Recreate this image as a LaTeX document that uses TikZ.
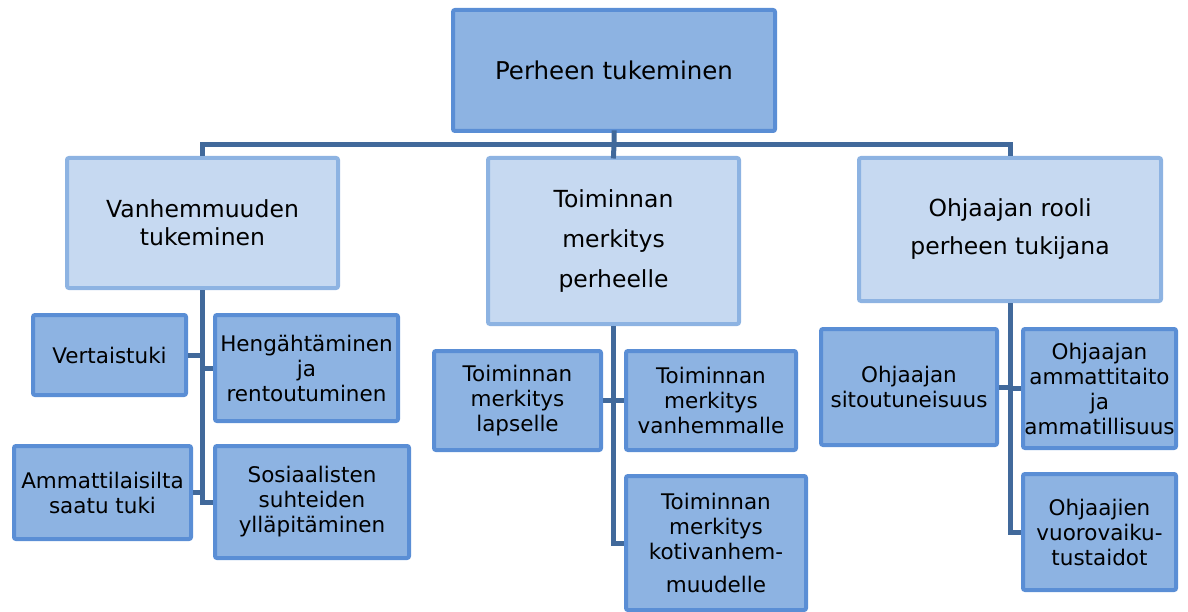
\documentclass[tikz,border=0pt]{standalone}
\usepackage{fontspec}
\setmainfont{DejaVu Sans}
\definecolor{darkfill}{HTML}{8DB3E2}
\definecolor{darkline}{HTML}{5A8ED5}
\definecolor{lightfill}{HTML}{C6D9F1}
\definecolor{lightline}{HTML}{8DB3E2}
\definecolor{conn}{HTML}{41699B}
\tikzset{
  topbox/.style={draw=darkline, fill=darkfill, line width=4pt, rounded corners=2pt, inner sep=0pt, align=center, font=\fontsize{24.5}{29}\selectfont},
  midbox/.style={draw=lightline, fill=lightfill, line width=4pt, rounded corners=2pt, inner sep=0pt, align=center},
  leafbox/.style={draw=darkline, fill=darkfill, line width=4pt, rounded corners=2pt, inner sep=0pt, align=center, font=\fontsize{21.5}{25}\selectfont},
  link/.style={draw=conn, line width=5pt, line cap=rect}
}
\begin{document}
\begin{tikzpicture}[x=1pt,y=-1pt]
\useasboundingbox (0,0) rectangle (1188,612);
% top
\node[topbox, minimum width=322pt, minimum height=121pt] (top) at (614,70.5) {Perheen tukeminen};
% level 2
\node[midbox, minimum width=271pt, minimum height=130pt, font=\fontsize{23.5}{28}\selectfont] (L) at (202.5,223) {Vanhemmuuden\\tukeminen};
\node[midbox, minimum width=251pt, minimum height=166pt, font=\fontsize{23.5}{40}\selectfont] (M) at (613.5,241) {Toiminnan\\merkitys\\perheelle};
\node[midbox, minimum width=302pt, minimum height=143pt, font=\fontsize{23.5}{38}\selectfont] (R) at (1010,229.5) {Ohjaajan rooli\\perheen tukijana};
% level 3 left
\node[leafbox, minimum width=153pt, minimum height=80pt] (vert) at (109.5,355) {Vertaistuki};
\node[leafbox, minimum width=183pt, minimum height=106pt] (heng) at (306.5,368) {Hengähtäminen\\ja\\rentoutuminen};
\node[leafbox, minimum width=177pt, minimum height=93pt] (amm) at (102.5,492.5) {Ammattilaisilta\\saatu tuki};
\node[leafbox, minimum width=194pt, minimum height=112pt] (sos) at (312,502) {Sosiaalisten\\suhteiden\\ylläpitäminen};
% level 3 middle
\node[leafbox, minimum width=167pt, minimum height=99pt] (lap) at (517.5,400.5) {Toiminnan\\merkitys\\lapselle};
\node[leafbox, minimum width=170pt, minimum height=99pt] (van) at (711,400.5) {Toiminnan\\merkitys\\vanhemmalle};
\node[leafbox, minimum width=180pt, minimum height=134pt] (koti) at (716,543) {Toiminnan\\merkitys\\kotivanhem-\\[8pt]muudelle};
% level 3 right
\node[leafbox, minimum width=176pt, minimum height=116pt] (sit) at (909,387) {Ohjaajan\\sitoutuneisuus};
\node[leafbox, minimum width=153pt, minimum height=119pt] (ammt) at (1099.5,388.5) {Ohjaajan\\ammattitaito\\ja\\ammatillisuus};
\node[leafbox, minimum width=153pt, minimum height=116pt] (vuo) at (1099.5,532) {Ohjaajien\\vuorovaiku-\\tustaidot};
% connectors top
\coordinate (bus) at (614,145);
\draw[link] (top.south) -- (bus) -- (M.north);
\draw[link, line cap=butt] (bus) -| (L.north);
\draw[link, line cap=butt] (bus) -| (R.north);
% left group
\draw[link, line cap=butt] (L.south) |- (sos.west);
\draw[link, line cap=butt] (vert.east) -| (L.south);
\draw[link, line cap=butt] (L.south) |- (heng.west);
\draw[link, line cap=butt] (amm.east) -| (L.south);
% middle group
\draw[link, line cap=butt] (M.south) |- (koti.west);
\draw[link, line cap=butt] (lap.east) -| (M.south);
\draw[link, line cap=butt] (M.south) |- (van.west);
% right group
\draw[link, line cap=butt] (R.south) |- (vuo.west);
\draw[link, line cap=butt] (sit.east) -| (R.south);
\draw[link, line cap=butt] (R.south) |- (ammt.west);
\end{tikzpicture}
\end{document}
